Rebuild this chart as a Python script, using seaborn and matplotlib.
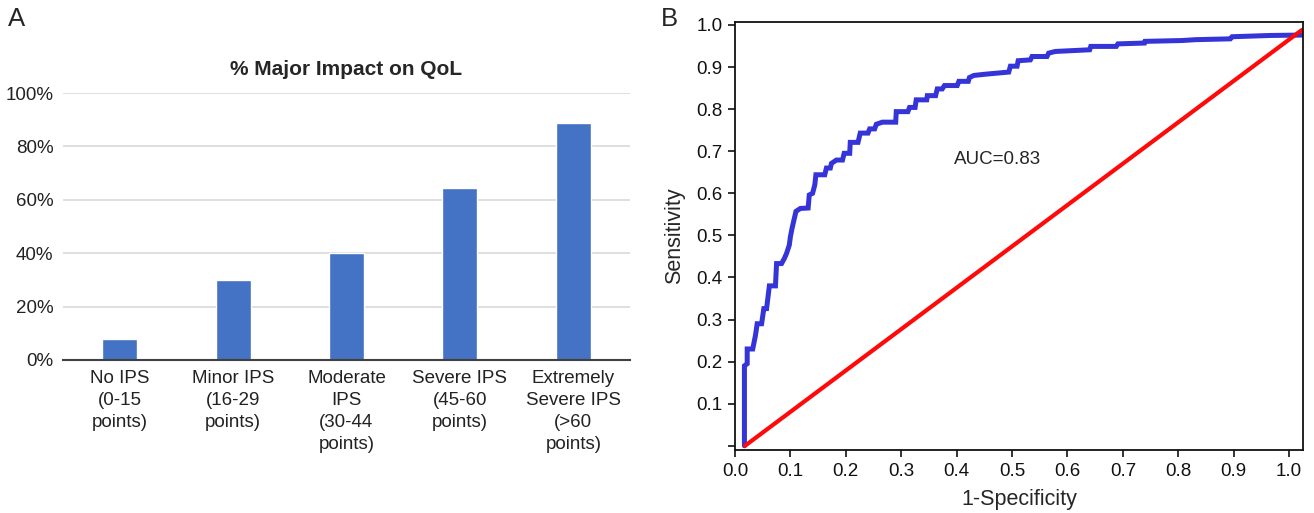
import matplotlib
matplotlib.use("Agg")
import matplotlib.pyplot as plt
import seaborn as sns
import pandas as pd

# ---------------- data ----------------
categories = ["No IPS\n(0-15\npoints)", "Minor IPS\n(16-29\npoints)",
              "Moderate\nIPS\n(30-44\npoints)", "Severe IPS\n(45-60\npoints)",
              "Extremely\nSevere IPS\n(>60\npoints)"]
pct_major = [7.7, 30.1, 40.0, 64.4, 88.6]
bar_yticks = [0, 20, 40, 60, 80, 100]

roc_fpr = [0.017, 0.017, 0.022, 0.022, 0.032, 0.037, 0.040, 0.048, 0.052, 0.057,
           0.062, 0.073, 0.075, 0.084, 0.089, 0.093, 0.098, 0.100, 0.103, 0.107,
           0.110, 0.118, 0.132, 0.134, 0.140, 0.144, 0.146, 0.162, 0.165, 0.172,
           0.174, 0.183, 0.194, 0.197, 0.207, 0.208, 0.222, 0.226, 0.240, 0.243,
           0.252, 0.255, 0.266, 0.290, 0.291, 0.312, 0.315, 0.325, 0.327, 0.346,
           0.347, 0.362, 0.365, 0.374, 0.378, 0.401, 0.404, 0.421, 0.423, 0.431,
           0.452, 0.494, 0.497, 0.509, 0.511, 0.533, 0.536, 0.563, 0.566, 0.578,
           0.640, 0.642, 0.688, 0.691, 0.739, 0.740, 0.807, 0.831, 0.894, 0.897,
           0.966, 1.025]
roc_tpr = [0.000, 0.190, 0.195, 0.230, 0.230, 0.263, 0.290, 0.290, 0.326, 0.326,
           0.380, 0.380, 0.433, 0.433, 0.445, 0.457, 0.477, 0.497, 0.517, 0.540,
           0.557, 0.564, 0.565, 0.596, 0.600, 0.620, 0.644, 0.644, 0.660, 0.660,
           0.671, 0.679, 0.679, 0.695, 0.695, 0.721, 0.721, 0.743, 0.743, 0.753,
           0.753, 0.764, 0.769, 0.769, 0.794, 0.794, 0.804, 0.804, 0.822, 0.822,
           0.832, 0.832, 0.848, 0.848, 0.856, 0.856, 0.866, 0.866, 0.875, 0.880,
           0.883, 0.888, 0.902, 0.902, 0.915, 0.917, 0.925, 0.925, 0.933, 0.937,
           0.941, 0.949, 0.949, 0.955, 0.957, 0.961, 0.963, 0.965, 0.967, 0.972,
           0.975, 0.976]
ref_x = [0.018, 1.023]
ref_y = [0.000, 0.988]
roc_xticks = [0.0, 0.1, 0.2, 0.3, 0.4, 0.5, 0.6, 0.7, 0.8, 0.9, 1.0]
roc_yticks = [0.0, 0.1, 0.2, 0.3, 0.4, 0.5, 0.6, 0.7, 0.8, 0.9, 1.0]
auc_text = "AUC=0.83"

# ---------------- style ----------------
sns.set_style("white")
plt.rcParams['font.family'] = ['Liberation Sans', 'DejaVu Sans']

W, H = 1314, 513
fig = plt.figure(figsize=(W / 100, H / 100), dpi=100)

def box(l, t, r, b):
    return [l / W, 1 - b / H, (r - l) / W, (b - t) / H]

# ---------------- panel A ----------------
axA = fig.add_axes(box(63, 93, 630, 360))
dfA = pd.DataFrame({"cat": categories, "val": pct_major})
sns.barplot(data=dfA, x="cat", y="val", color="#4472C4", width=0.31,
            saturation=1, ax=axA, zorder=3)
axA.set_ylim(0, 100)
axA.set_xlim(-0.5, len(categories) - 0.5)
axA.set_yticks(bar_yticks)
axA.set_yticklabels([f"{v}%" for v in bar_yticks], fontsize=13.5)
axA.set_xticks(range(len(categories)))
axA.set_xticklabels(categories, fontsize=13.5, linespacing=1.4)
axA.set_xlabel("")
axA.set_ylabel("")
axA.yaxis.grid(True, color="#d9d9d9", lw=1.2, zorder=0)
axA.xaxis.grid(False)
for s in ["left", "right", "top"]:
    axA.spines[s].set_visible(False)
axA.spines["bottom"].set_color("#404040")
axA.spines["bottom"].set_linewidth(1.5)
axA.spines["bottom"].set_zorder(4)
axA.tick_params(axis="x", length=0, pad=7, colors="#222222")
axA.tick_params(axis="y", length=0, pad=7, colors="#222222")
axA.set_title("% Major Impact on QoL", fontsize=15,
              fontweight="bold", pad=13)
fig.text(8 / W, 1 - 19 / H, "A", fontsize=18.5, va="center", ha="left")

# ---------------- panel B ----------------
axB = fig.add_axes(box(735, 22, 1303, 450))
dfR = pd.DataFrame({"fpr": roc_fpr, "tpr": roc_tpr})
sns.lineplot(data=dfR, x="fpr", y="tpr", sort=False, estimator=None,
             color="#3434d8", lw=3.6, ax=axB, solid_joinstyle="miter")
dfD = pd.DataFrame({"x": ref_x, "y": ref_y})
sns.lineplot(data=dfD, x="x", y="y", sort=False, estimator=None,
             color="#ff0a0a", lw=3.0, ax=axB)
axB.set_xlim(0, 1.025)
axB.set_ylim(-0.01, 1.007)
axB.set_xticks(roc_xticks)
axB.set_xticklabels([f"{v:.1f}" for v in roc_xticks], fontsize=13.5)
axB.set_yticks(roc_yticks)
axB.set_yticklabels([""] + [f"{v:.1f}" for v in roc_yticks[1:]], fontsize=13.5)
axB.tick_params(axis="both", direction="out", length=5, width=1.2,
                colors="#111111", pad=4, left=True, bottom=True)
for s in axB.spines.values():
    s.set_color("#111111")
    s.set_linewidth(1.3)
axB.set_xlabel("1-Specificity", fontsize=15.5, labelpad=7)
axB.set_ylabel("Sensitivity", fontsize=15.5, labelpad=8)
axB.text(0.396, 0.68, auc_text, fontsize=13.5, ha="left", va="center")
fig.text(661 / W, 1 - 19 / H, "B", fontsize=18.5, va="center", ha="left")

fig.savefig("out.png", dpi=100, facecolor="white")
